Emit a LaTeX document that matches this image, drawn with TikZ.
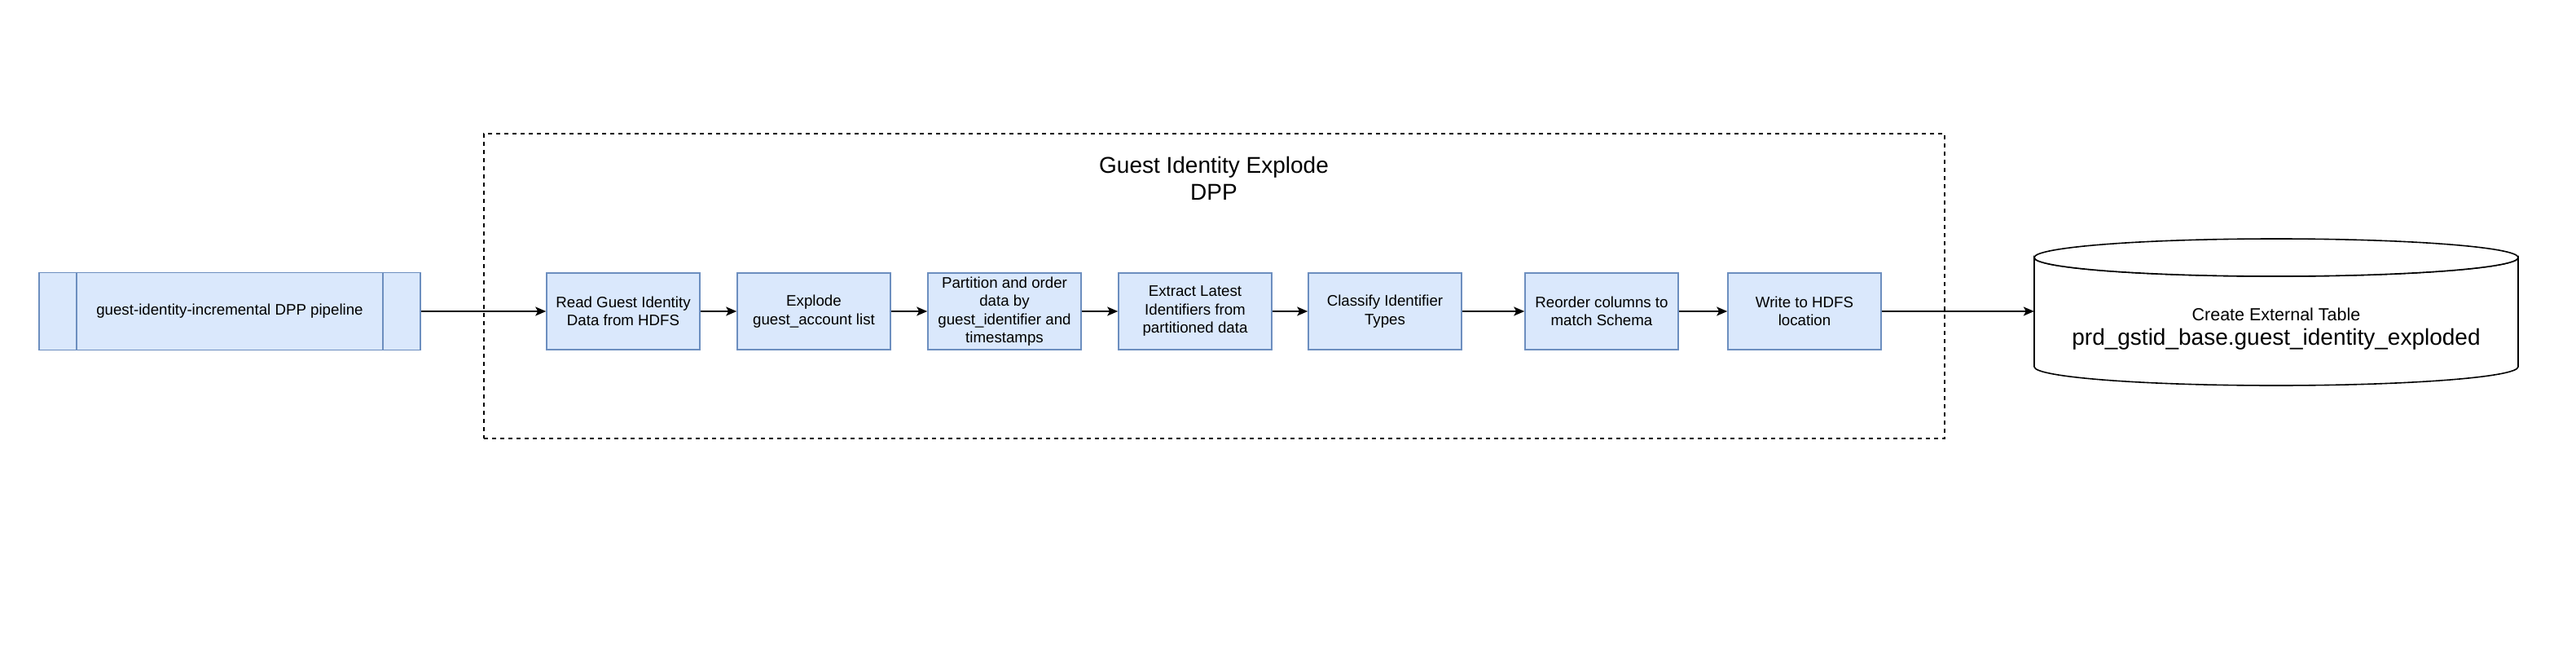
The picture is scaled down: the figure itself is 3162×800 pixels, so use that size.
\documentclass[tikz,border=0pt]{standalone}
\usepackage{fontspec}
\setmainfont{Liberation Sans}
\usetikzlibrary{arrows.meta}
\definecolor{boxfill}{HTML}{DAE8FC}
\definecolor{boxline}{HTML}{6C8EBF}
\begin{document}
\begin{tikzpicture}[x=1pt,y=-1pt,
  proc/.style={draw=boxline, fill=boxfill, line width=1.6pt, minimum width=188pt, minimum height=94pt, inner sep=0pt, align=center, font=\fontsize{18.7}{22.5}\selectfont},
  conn/.style={line width=1.6pt, -{Stealth[length=13pt,width=11pt,inset=3pt]}},
  grpbox/.style={draw=black, line width=1.3pt, dash pattern=on 5pt off 5pt, minimum width=1793pt, minimum height=374pt, inner sep=0pt},
  cylline/.style={draw=black, fill=white, line width=1.6pt},
]
\useasboundingbox (0,0) rectangle (3162,800);
% group
\node[grpbox] (grp) at (1490.5,351) {};
\node[font=\fontsize{28}{33.5}\selectfont, align=center] (title) at (1490,219) {Guest Identity Explode\\DPP};
% pipeline
\node[proc, minimum width=468pt, minimum height=95pt] (pipe) at (282,382) {guest-identity-incremental DPP pipeline};
\draw[boxline, line width=1.6pt] ([xshift=47pt]pipe.north west) -- ([xshift=47pt]pipe.south west);
\draw[boxline, line width=1.6pt] ([xshift=-47pt]pipe.north east) -- ([xshift=-47pt]pipe.south east);
% steps
\node[proc] (s1) at (765,382) {Read Guest Identity\\Data from HDFS};
\node[proc] (s2) at (999,382) {Explode\\guest\_account list};
\node[proc] (s3) at (1233,382) {Partition and order\\data by\\guest\_identifier and\\timestamps};
\node[proc] (s4) at (1467,382) {Extract Latest\\Identifiers from\\partitioned data};
\node[proc] (s5) at (1700,382) {Classify Identifier\\Types};
\node[proc] (s6) at (1966,382) {Reorder columns to\\match Schema};
\node[proc] (s7) at (2215,382) {Write to HDFS\\location};
% cylinder
\path[cylline] (2497,316) -- (2497,450) arc[start angle=180, end angle=360, x radius=297pt, y radius=23pt] -- (3091,316) arc[start angle=0, end angle=-180, x radius=297pt, y radius=23pt] -- cycle;
\draw[cylline] (2794,316) ellipse[x radius=297pt, y radius=23pt];
\node[minimum width=594pt, minimum height=180pt, inner sep=0pt] (cyl) at (2794,383) {};
\node[anchor=base, font=\fontsize{21.5}{24}\selectfont] (cyl1) at (2794,393) {Create External Table};
\node[anchor=base, font=\fontsize{28}{30}\selectfont] (cyl2) at (2794,423) {prd\_gstid\_base.guest\_identity\_exploded};
% connectors
\draw[conn] (pipe) -- (s1);
\draw[conn] (s1) -- (s2);
\draw[conn] (s2) -- (s3);
\draw[conn] (s3) -- (s4);
\draw[conn] (s4) -- (s5);
\draw[conn] (s5) -- (s6);
\draw[conn] (s6) -- (s7);
\draw[conn] (s7.east) -- (s7.east -| cyl.west);
\end{tikzpicture}
\end{document}
